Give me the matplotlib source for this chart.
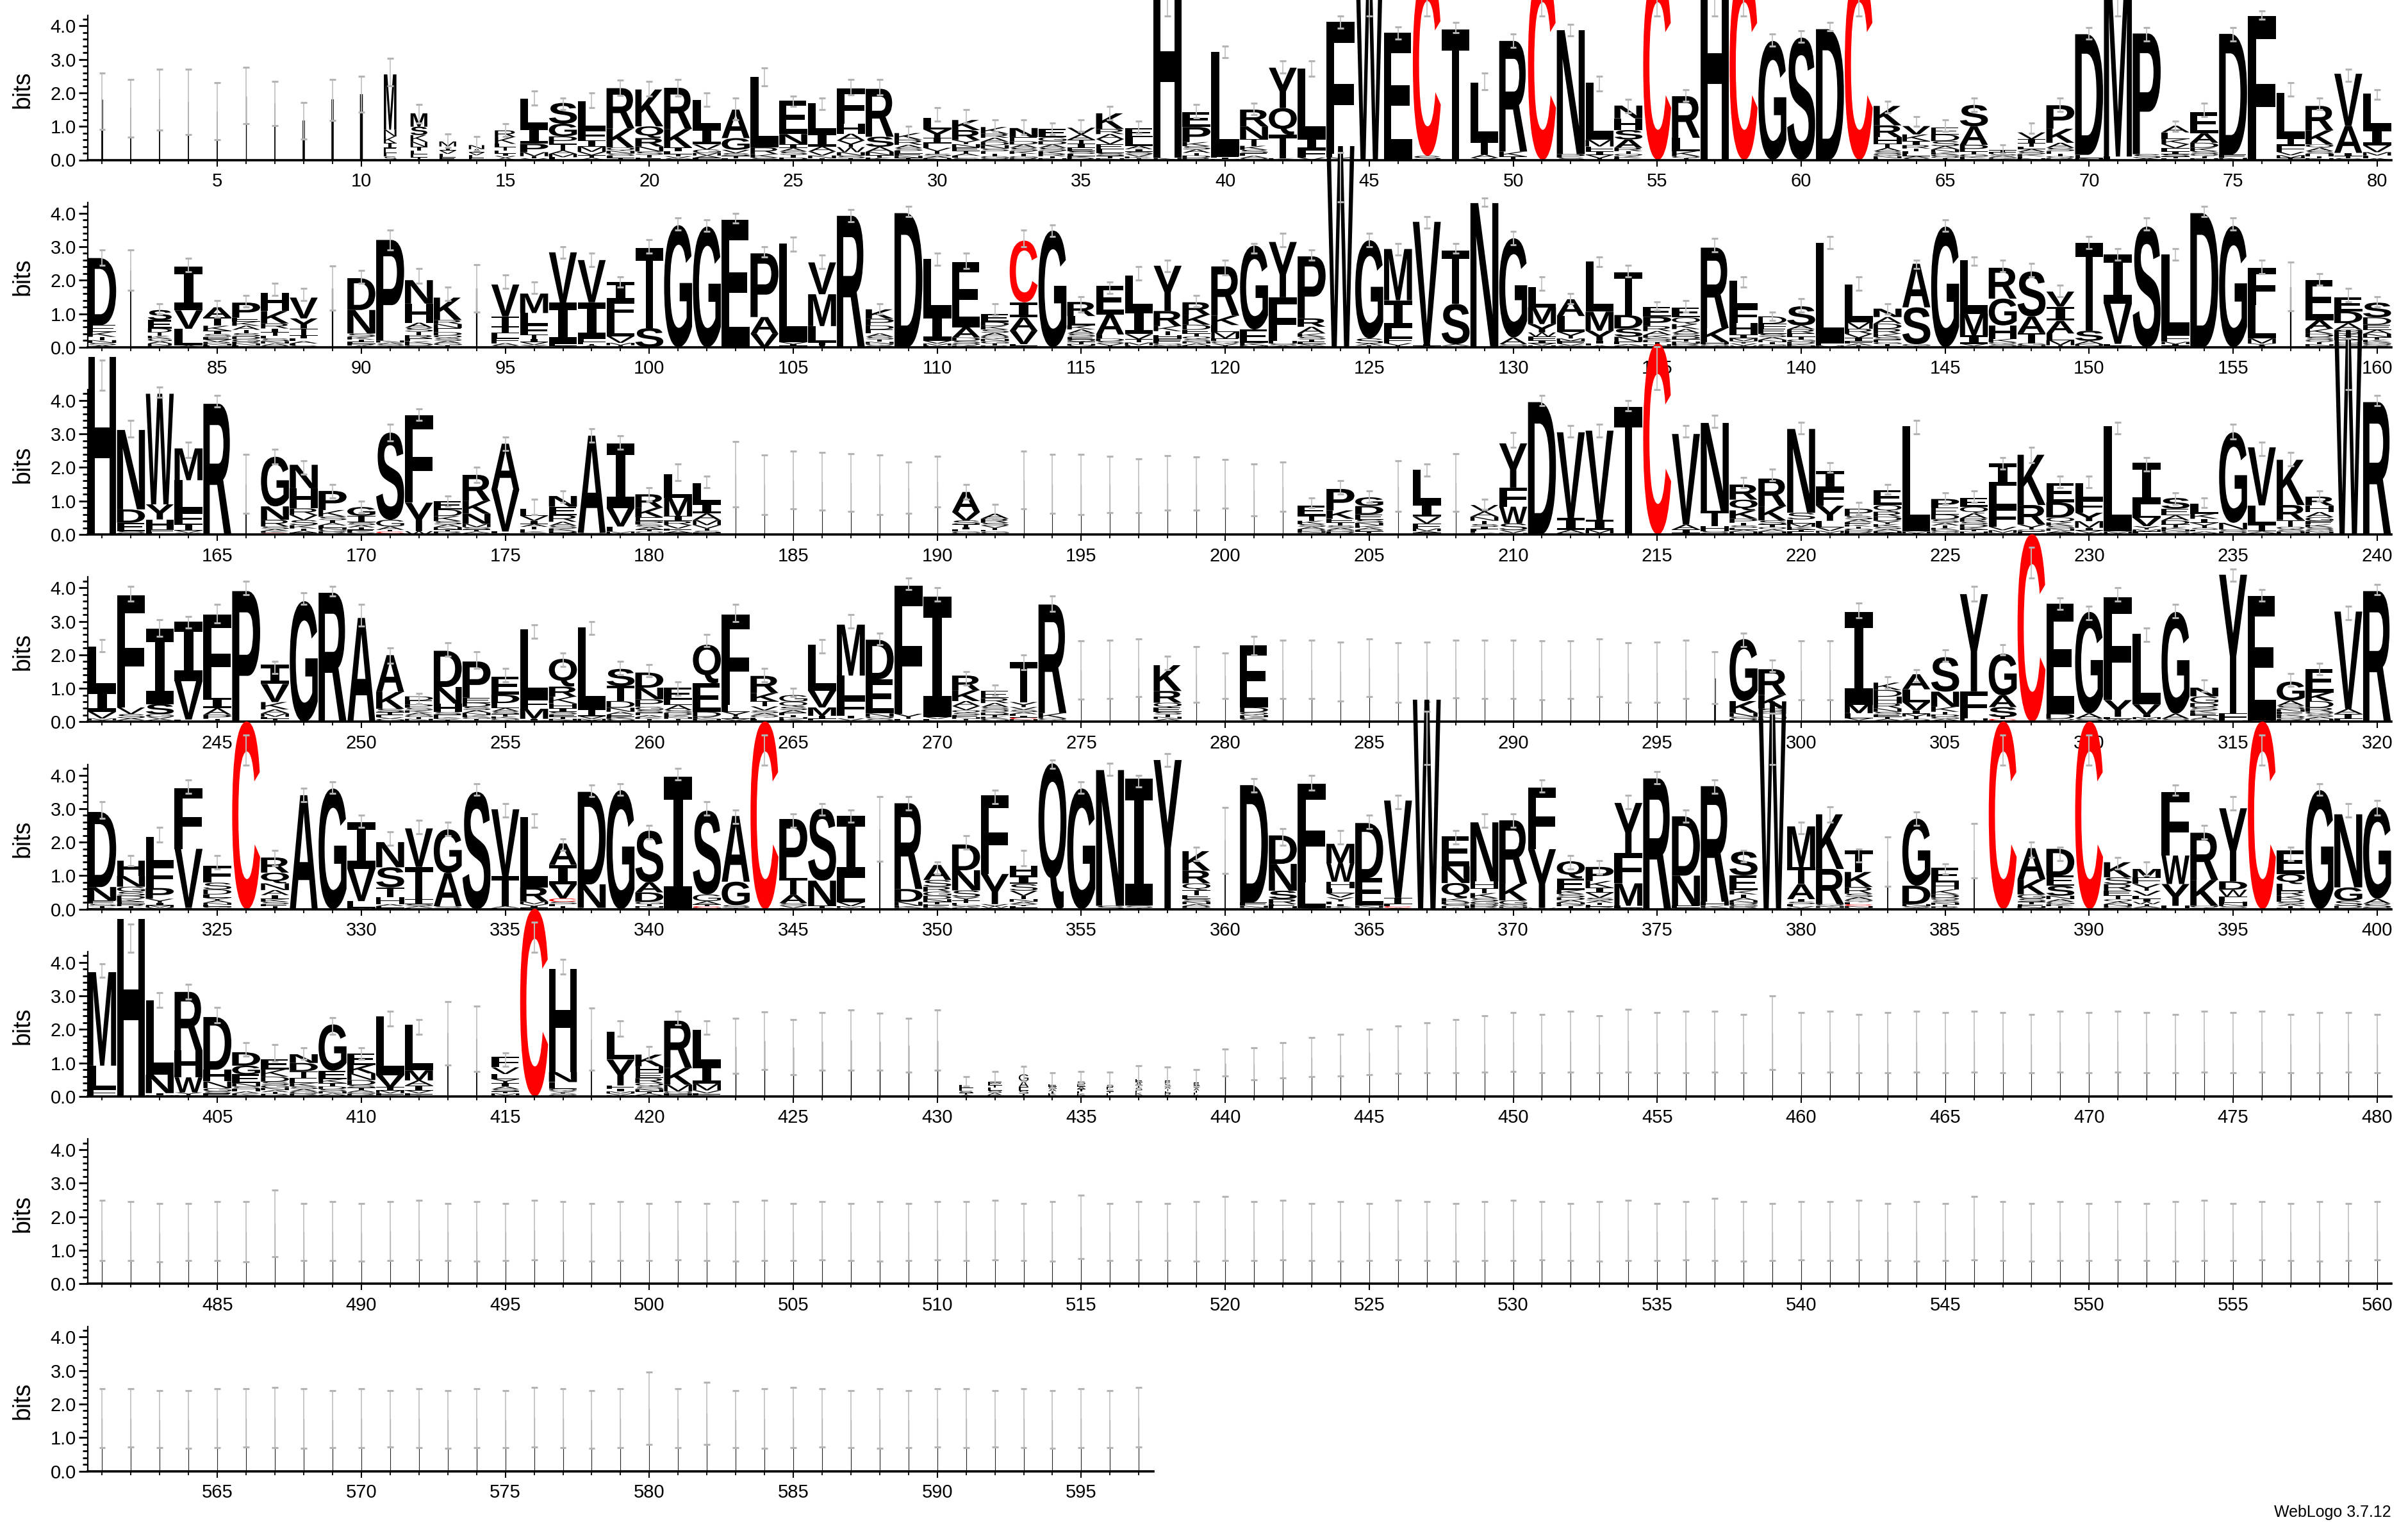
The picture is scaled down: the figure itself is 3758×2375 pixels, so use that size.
import re
import matplotlib
matplotlib.use("Agg")
import matplotlib.pyplot as plt
from matplotlib.textpath import TextPath
from matplotlib.patches import PathPatch
from matplotlib.font_manager import FontProperties
from matplotlib.transforms import Affine2D

# one string per position:  "letters with heights | error low,high | stack width"
row1 = [
    "I1.8|0.9,2.6|.06", "I1.55|0.67,2.4|.04", "I1.8|0.88,2.7|.04", "I1.73|0.76,2.7|.04",
    "I1.45|0.6,2.3|.04", "I1.9|1.08,2.77|.03", "I1.35 C.35|1.02,2.34|.04", "I1.17|0.62,1.72|.08",
    "I1.8|1.18,2.4|.08", "I1.96|1.42,2.5|.1",
    "M1.65 K.2 N.2 E.15 I.15 S.1 L.1|2.2,3.04|.45",
    "M.4 S.25 K.2 N.15 I.12 E.1 L.1 T.07|1.1,1.66|.6",
    "M.15 I.12 L.1 V.1 E.08|0.37,0.78|.6",
    "N.12 I.1 L.08 V.08 E.06|0.28,0.7|.55",
    "K.2 R.2 T.1 L.1 I.08 E.08 A.06 V.06|0.69,1.08|.75",
    "L.85 I.5 P.25 M.12 T.06 V.05|1.64,2.06",
    "S.62 G.38 T.2 P.22 M.1 A.1 L.08|1.5,1.85",
    "L.86 F.3 I.2 M.15 V.1 T.08 A.06|1.55,2.0",
    "R1.2 K.57 Q.1 N.08 S.07 T.06 L.06|1.93,2.38",
    "K1.1 Q.35 R.25 N.15 S.1 T.08 E.07|1.9,2.35",
    "R1.23 K.55 I.12 L.08 V.06 T.06 S.05|1.9,2.4",
    "L.82 I.5 V.15 G.1 M.08 A.07 F.06|1.6,2.0",
    "A.85 G.35 V.1 S.08 T.07 L.05|1.2,1.85",
    "L2.1 R.2 K.1 S.07|2.2,2.75",
    "E1.0 N.3 I.12 S.1 A.1 T.08 D.07|1.6,1.9",
    "L.9 I.4 A.15 V.12 N.08 T.05|1.5,1.85",
    "F1.05 H.3 Y.2 A.2 W.15 N.1 S.08 T.05|1.95,2.4",
    "R1.43 S.3 A.15 N.1 K.07 T.07|1.95,2.4",
    "K.2 R.15 A.1 L.08 S.08 E.07 T.06 N.06|0.6,1.0",
    "L.34 Y.25 F.15 I.15 V.1 T.08 S.07 A.06 N.05|1.15,1.55",
    "R.3 K.3 Y.12 E.1 N.1 T.08 A.07 S.06 L.06|1.1,1.5",
    "K.2 A.12 R.12 N.1 D.1 E.08 S.08 T.07 G.06 Q.05|0.85,1.2",
    "N.27 E.12 S.1 A.1 D.1 K.08 T.07 G.06 R.05|0.75,1.2",
    "E.25 G.12 S.1 A.1 D.1 K.08 R.07 T.06 N.05|0.75,1.1",
    "V.2 A.16 I.12 T.12 E.1 S.08 L.07 K.06 R.05|0.85,1.2",
    "K.47 E.15 V.15 L.12 A.15 R.15 S.08 T.07 N.05|1.2,1.6",
    "L.25 E.28 A.1 I.08 V.07 S.07 T.05 K.05|0.8,1.15",
    "H5.3 N.06|4.3,5.15",
    "P.45 E.45 K.12 A.1 S.1 T.08 D.07 R.06|1.25,1.65",
    "L3.1 F.05 I.04 M.03|3.05,3.4",
    "R.5 N.38 T.2 K.12 S.1 E.08 A.07 Q.05|1.35,1.7",
    "Y1.2 Q.8 T.7 K.05|2.6,2.95",
    "L2.05 I.35 F.25 V.07|2.5,2.95",
    "F3.95 L.1 Y.08|3.93,4.3",
    "W6.0|4.3,5.8",
    "E3.8|3.6,3.97",
    "C5.5 S.12|4.3,5.2",
    "T3.9|3.8,4.1",
    "L1.75 T.3 A.1 I.1 V.06|2.1,2.6",
    "R3.3 K.15 T.1|3.35,3.75",
    "C5.6|4.3,5.2",
    "N3.7 P.1 S.07|3.7,4.05",
    "L1.7 M.2 F.15 V.1 I.1 T.05|2.05,2.5",
    "N.38 H.35 S.28 A.25 R.1 T.08 Q.07 K.06 E.05|1.4,1.8",
    "C5.6|4.3,5.2",
    "R1.24 L.4 K.15 Q.06 T.05|1.75,2.1",
    "H5.3|4.3,5.15",
    "C5.6|4.3,5.2",
    "G3.55|3.4,3.75",
    "S3.65|3.5,3.85",
    "D3.9|3.85,4.1",
    "C5.6|4.3,5.2",
    "K.58 R.35 H.2 T.12 A.1 S.08 Q.07 N.06 E.05|1.4,1.75",
    "V.25 K.2 I.12 R.1 L.08 T.08 E.07 A.06 S.05|1.0,1.3",
    "D.2 E.2 S.15 A.1 N.08 K.07 G.06 T.05 Q.05|0.85,1.2",
    "S.64 A.55 P.2 T.08 G.07 E.05 K.05|1.45,1.85",
    "T.06 A.05 S.05 E.05 K.04 G.04|0.2,0.45",
    "V.2 I.12 T.1 A.08 L.08 S.07 E.06 K.06 N.05|0.8,1.1",
    "P.7 K.42 A.15 S.1 E.08 T.07 Q.06 R.05|1.45,1.85",
    "D3.6 E.1 N.05|3.6,3.95",
    "M5.2 L.1|4.3,5.1",
    "P3.6 S.12 A.05|3.55,3.95",
    "L.2 A.2 K.15 V.12 F.1 I.08 S.07 E.05 T.05|0.85,1.15",
    "E.63 A.28 D.15 K.1 S.08 Q.07 T.06 N.05|1.3,1.7",
    "D3.6 E.1 N.06|3.55,3.95",
    "F4.3|4.2,4.45",
    "L1.36 F.2 I.2 V.1 M.08 T.06|1.9,2.3",
    "R.73 K.42 A.1 Q.1 S.08 H.07 T.06 N.05|1.5,1.85",
    "V1.56 A.8 I.1 T.06 S.05|2.35,2.7",
    "L1.05 I.5 V.2 M.1 F.08 A.05|1.8,2.1",
]

row2 = [
    "D2.0 E.2 K.15 T.1 N.08 S.07 A.06|2.45,2.9",
    "I2.3|1.7,2.9|.04",
    "S.3 E.25 D.12 T.1 G.08 K.08 A.07 N.06 R.05|1.0,1.3|.85",
    "I1.3 V.55 L.5 A.05|2.25,2.65",
    "T.25 A.3 K.15 I.1 E.08 S.08 V.07 R.06 L.05 N.05|0.9,1.4",
    "P.45 A.12 K.12 E.12 S.1 T.1 D.08 G.07 N.06 R.06 L.05|1.2,1.55",
    "H.55 K.37 R.15 I.12 T.1 S.08 E.08 N.07 A.06 Q.05|1.55,1.9",
    "V.62 Y.3 T.2 I.1 L.08 A.07 F.06 S.05|1.4,1.75",
    "I1.75|1.1,2.43|.05",
    "D.95 N.7 S.1 K.08 T.07 E.06 A.05 R.05|1.9,2.3",
    "P3.0 N.06 S.05 A.05 T.04|2.9,3.5",
    "H.57 N.7 S.12 A.15 R.1 T.1 E.08 K.07 D.06 G.05|1.9,2.35",
    "K.67 E.12 N.12 R.12 D.1 S.08 Q.08 A.07 T.06 G.06|1.4,1.8",
    "I1.75|1.05,2.46|.05",
    "V.95 T.3 I.2 F.15 L.15 A.07 S.05|1.75,2.15",
    "M.58 L.35 F.3 T.12 I.1 V.08 Y.07|1.6,1.95",
    "V1.5 I1.24 L.05 A.04|2.65,3.0",
    "V1.26 I1.1 L.08 F.06 A.05 T.05|2.4,2.8",
    "I.56 F.55 L.5 V.2 M.07 T.06|1.8,2.1",
    "T2.39 S.57|2.8,3.2",
    "G3.64|3.5,3.85",
    "G3.6|3.45,3.8",
    "E3.8|3.7,4.0",
    "P1.9 A.5 V.4|2.7,3.0",
    "L2.95 V.06 I.05 M.04|2.87,3.29",
    "M.95 V.95 L.5 I.08 T.05|2.35,2.75",
    "R3.92|3.75,4.1",
    "K.28 P.2 E.12 D.12 A.1 S.08 T.07 N.06 G.05 Q.05|1.0,1.3",
    "D4.0|3.9,4.2",
    "L1.65 I.8 V.08 M.06 F.05|2.45,2.8",
    "E1.95 A.3 D.1 S.08 Q.06 K.05|2.35,2.8",
    "E.25 D.12 A.1 S.1 K.1 Q.08 G.07 N.07 T.06 R.05|0.95,1.3",
    "C1.84 V.4 A.4 I.45 L.05 T.04|3.0,3.5",
    "G3.48|3.3,3.65",
    "R.42 L.28 A.12 K.12 S.1 E.08 Q.07 T.06 V.05 N.05|1.05,1.5",
    "E.85 A.6 L.12 D.08 S.07 V.06 T.05|1.6,1.95",
    "L.99 I.75 V.15 T.1 M.08 F.06|2.0,2.4",
    "Y1.35 R.45 K.15 T.12 H.1 F.08 E.07 Q.06 N.05|2.25,2.6",
    "R.37 K.3 D.15 E.12 Q.08 T.08 S.07 A.06 N.06 H.05|1.2,1.55",
    "R1.47 K.28 M.2 L.2 E.08 Q.07 V.06 T.05|2.15,2.6",
    "G2.5 E.4 K.08 M.05|2.8,3.1",
    "F1.3 Y1.65 H.08 S.06 A.05|3.0,3.4",
    "P1.85 R.25 A.2 K.1 S.08 T.07 E.06 G.05 V.05|2.6,2.9",
    "W6.0|4.34,5.8",
    "G2.93 S.15 A.06 T.05|3.0,3.4",
    "M1.53 I.83 L.3 F.15 V.07 T.05|2.75,3.1",
    "V3.65 I.05 A.04|3.55,3.9",
    "T1.6 S1.2 A.05 V.04|2.8,3.1",
    "N4.3|4.2,4.45",
    "G2.96 A.2 S.05 N.04|3.05,3.45",
    "L.6 M.5 Y.25 F.12 W.12 I.08 V.07 H.05|1.7,2.1",
    "L.47 A.5 Y.2 M.08 F.07 V.06 S.05|1.3,1.6",
    "L1.5 M.57 Y.3 I.08 F.06 A.05|2.4,2.7",
    "T1.28 D.4 S.25 N.15 E.07 A.05 K.04|2.1,2.45",
    "E.3 P.28 R.15 A.12 K.08 S.07 T.06 D.06 N.05 Q.04|1.1,1.35",
    "E.3 Q.2 K.15 A.12 S.1 D.08 T.07 R.06 N.06 G.05|1.05,1.4",
    "R2.4 K.42 H.06 Q.05 N.04|2.85,3.25",
    "L.8 F.45 H.35 I.12 M.08 Y.07 V.06 W.05|1.8,2.1",
    "D.22 E.15 F.15 S.1 A.08 N.07 T.06 G.05 K.04|0.8,1.05",
    "S.57 R.12 A.12 E.1 T.08 G.07 D.06 N.05 K.05|1.05,1.45",
    "L3.0 F.06 M.05|2.95,3.3",
    "L1.12 M.2 R.15 V.12 I.1 F.07 A.06 T.05|1.7,2.1",
    "N.25 A.2 R.15 D.15 K.1 S.08 E.07 G.06 T.05 Q.04|1.0,1.3",
    "A1.3 S1.1 G.05 T.04|2.35,2.6",
    "G3.6|3.45,3.8",
    "L1.6 M.65 I.25 V.06 F.04|2.45,2.7",
    "R.92 H.4 G.8 K.1 Q.06 S.05 N.04|2.25,2.6",
    "S1.34 A.5 T.3 G.07 N.05|2.1,2.5",
    "I.42 V.45 A.38 L.2 M.15 T.06|1.5,1.85",
    "T2.63 S.3 A.1 N.05 V.04|2.95,3.3",
    "I1.47 V1.2 L.06 A.04|2.6,2.95",
    "S3.6|3.5,3.85",
    "L2.4 F.2 M.07 I.05 V.04|2.6,2.95",
    "D4.0|3.9,4.2",
    "G3.62|3.5,3.85",
    "L1.0 F1.1 M.15 Y.06 I.05|2.2,2.6",
    "I1.8|1.08,2.53|.05",
    "E1.2 A.25 K.15 D.1 S.08 Q.07 T.06 N.05 R.04|1.85,2.2",
    "E.41 D.35 A.2 S.12 K.1 N.08 T.07 Q.06 G.05 R.04|1.35,1.75",
    "S.44 D.22 E.15 A.12 N.1 T.08 K.07 G.06 Q.05 R.04|1.2,1.5",
]

row3 = [
    "H5.3|4.3,5.2",
    "N2.37 D.4 E.25 S.06 K.04|2.9,3.4",
    "W3.3 Y.45 H.3 F.08 L.07|4.1,4.4",
    "L.95 M.95 I.2 F.35 V.07 Y.05|2.3,2.75",
    "R3.9|3.8,4.15",
    "I1.5|0.63,2.4|.04",
    "G1.48 N.4 R.2 S.08 C.05 A.06 K.05|2.1,2.55",
    "N.7 H.6 R.2 S.15 V.15 K.1 T.07 A.06 E.05|1.8,2.2",
    "P.57 K.2 S.1 A.08 T.08 E.07 N.06 R.05 G.05 V.04|1.1,1.5",
    "G.26 I.2 S.08 A.07 T.06 V.05 K.05 E.05|0.65,1.0",
    "S2.6 G.2 A.1 C.05 T.05 N.04|2.8,3.3",
    "F2.6 Y.85 W.1|3.4,3.75",
    "E.25 D.2 K.15 S.1 A.08 N.07 T.06 R.05 Q.04|0.85,1.15",
    "R.78 K.38 N.3 M.1 S.07 T.06 A.05 E.04|1.55,2.0",
    "A1.37 V1.25 L.05 I.04|2.5,2.9",
    "L.2 V.15 I.1 A.08 T.07 E.06 S.05 K.05|0.6,1.05",
    "N.32 E.25 R.2 A.12 S.08 K.07 D.06 T.05|0.95,1.3",
    "A2.9 S.05|2.75,3.15",
    "I1.92 V.55 L.15 M.05 F.04|2.55,2.95",
    "R.4 K.28 E.12 P.1 S.08 A.07 T.06 Q.05 N.04|1.0,1.4",
    "L.7 M.55 I.15 R.12 V.1 F.07 A.06 T.05|1.6,2.1",
    "L.6 I.3 A.2 M.15 V.1 T.07 S.06 F.05|1.4,1.75",
    "|0.82,2.78", "|0.6,2.37", "|0.76,2.49", "|0.72,2.45", "|0.69,2.42",
    "|0.6,2.37", "|0.63,2.17", "|0.82,2.33",
    "A.6 V.25 S.12 T.08 I.07 L.06 G.05 E.04|1.05,1.5",
    "A.15 R.12 S.08 V.07 T.06 G.05 E.05 K.04|0.45,0.9",
    "|0.76,2.49", "|0.63,2.39", "|0.6,2.39", "|0.66,2.33", "|0.66,2.26",
    "|0.72,2.36", "|0.72,2.31", "|0.79,2.24", "|0.56,2.1", "|0.69,2.17",
    "E.3 T.15 K.1 S.08 A.07 D.06 G.05 N.05|0.8,1.1",
    "P.64 K.25 E.12 T.08 S.07 A.06 D.05 G.05 R.04|1.2,1.6",
    "G.26 D.25 E.15 S.1 N.08 K.07 A.06 T.05 P.05 R.04|0.95,1.3",
    "|0.69,2.2",
    "L1.0 I.4 V.2 F.15 M.08 T.05 A.05|1.75,2.1",
    "|0.69,2.42",
    "V.2 A.15 N.12 T.1 S.08 I.07 L.06 K.05 E.05|0.75,1.05",
    "F.57 Y1.32 W.5 S.2 V.08 N.05|2.6,3.05",
    "D3.95|3.85,4.15",
    "V2.56 I.35 A.1 L.04|2.9,3.25",
    "V2.66 I.3 M.1 A.04|2.9,3.3",
    "T3.8|3.7,4.0",
    "C5.7|4.32,5.6",
    "V2.7 A.15 I.1 T.05|2.9,3.25",
    "N2.63 T.45 H.15 S.06 D.04|3.2,3.55",
    "R.45 Q.32 K.25 P.12 T.08 S.07 E.06 N.05 A.05 H.04|1.4,1.7",
    "R.83 K.42 S.12 T.08 Q.07 A.06 N.05 E.04|1.6,1.95",
    "N2.5 S.2 L.12 M.1 K.08 T.06 E.05 D.04|3.0,3.35",
    "F.47 I.57 Y.45 L.2 V.1 M.06 W.05|1.85,2.15",
    "P.22 S.1 A.08 E.07 T.06 K.06 D.05 G.05 N.04 R.04|0.6,0.95",
    "E.45 Q.2 R.15 D.12 Y.1 K.08 S.07 A.06 T.05 N.05|1.2,1.5",
    "L3.15 M.05 I.04|3.0,3.4",
    "P.26 E.2 D.15 S.1 A.08 T.07 K.06 Q.05 G.05 N.04|0.9,1.25",
    "E.26 Q.2 A.15 R.1 D.08 S.08 K.07 T.06 N.05 G.04|0.95,1.3",
    "I.67 L.64 F.58 V.1 M.08 Y.05|1.95,2.3",
    "K1.5 R.58 Y.15 Q.06 E.05 N.04|2.15,2.6",
    "E.58 D.45 Q.15 K.1 S.08 N.07 A.06 T.05|1.4,1.75",
    "L.48 F.4 Y.25 M.2 I.08 V.07 W.05|1.4,1.75",
    "L3.15 M.05 F.04|3.0,3.35",
    "I1.25 L.4 V.25 Y.1 M.06 F.05 T.04|1.9,2.3",
    "S.32 E.2 A.15 D.12 T.08 K.07 N.06 G.05 Q.04|0.9,1.25",
    "L.3 K.15 I.12 V.08 T.07 S.06 A.05 E.05 R.04|0.8,1.1",
    "G2.7 N.2 S.06 D.05 A.04|2.85,3.3",
    "V1.73 L.58 I.2 A.05 M.04|2.35,2.75",
    "K1.35 R.45 T.2 Q.08 S.06 N.05 E.04|2.05,2.45",
    "R.26 H.2 A.15 G.12 E.1 K.08 S.07 Q.06 N.05 T.04|1.0,1.3",
    "W6.1|4.32,5.85",
    "R3.95|3.85,4.15",
]

row4 = [
    "L1.3 I.65 V.2 A.05 M.05|2.1,2.45",
    "F3.35 V.2 S.12 A.06 L.05|3.6,4.05",
    "I2.25 S.3 G.08 V.06 A.05 L.04|2.55,3.05",
    "I1.78 V1.15 L.04 A.03|2.8,3.15",
    "F2.5 I.3 A.2 P.12 T.05 S.04|2.95,3.5",
    "P3.9|3.8,4.2",
    "V.54 I.57 K.22 A.12 M.1 L.06 T.05 S.04|1.45,1.8",
    "G3.6|3.5,3.85",
    "R3.85|3.75,4.05",
    "A3.1|2.85,3.5",
    "A1.1 K.5 S.1 T.08 E.07 G.05 V.05 N.04|1.75,2.2",
    "E.12 D.12 P.1 S.08 A.07 K.07 G.06 N.05 T.05 R.04|0.55,0.85",
    "D1.08 N.5 H.25 S.08 E.07 Y.05 K.05 T.04|1.95,2.35",
    "P1.08 E.15 D.12 S.1 A.08 N.07 K.06 T.05 G.05 Q.04|1.6,2.1",
    "E.54 D.25 L.15 A.1 S.08 T.07 K.06 N.05 Q.05|1.2,1.6",
    "L2.07 M.3 F.3 I.05 V.04|2.5,2.9",
    "Q.83 R.3 K.2 H.15 I.1 S.08 E.07 T.06 N.05 A.04|1.65,2.05",
    "L2.45 I.2 V.08 M.05 F.04|2.6,3.0",
    "S.51 T.45 D.2 N.12 A.08 E.07 K.06 G.05 Q.04|1.4,1.8",
    "D.45 N.35 P.22 G.1 S.08 E.07 A.06 T.05 K.05 Q.04|1.35,1.7",
    "E.37 A.15 L.15 S.08 D.07 K.06 T.05 N.05 G.04|0.8,1.2",
    "Q1.15 E.85 D.15 K.06 N.05 S.04|2.25,2.6",
    "F2.7 L.2 Y.15 I.06 V.05 M.04|3.0,3.5",
    "R.51 K.25 T.15 V.12 S.08 A.07 Q.06 E.05 N.04 L.04|1.2,1.6",
    "G.2 Q.15 S.1 A.08 E.07 T.06 K.05 N.05 D.04|0.75,1.0",
    "L1.37 V.5 M.25 I.08 F.06 A.04|2.05,2.45",
    "M1.52 L.7 F.5 I.08 V.06 Y.04|2.8,3.2",
    "D1.18 E1.02 N.1 Q.06 S.05 K.04|2.3,2.65",
    "F3.83 Y.15 L.05 W.04|3.95,4.3",
    "I3.58 V.06 L.05 M.04|3.6,4.0",
    "R.44 K.32 A.15 V.12 Q.08 S.07 E.06 T.05 N.05 H.04|1.1,1.5",
    "E.22 R.15 A.12 Q.08 S.08 D.07 K.06 T.06 G.05 N.04|0.8,1.1",
    "T1.2 Y.15 C.05 V.08 S.07 A.06 I.05 L.05 F.04 N.04|1.55,2.0",
    "R3.24 K.15 Q.06 N.05|3.3,3.75",
    "|0.67,2.41", "|0.69,2.43", "|0.75,2.47",
    "K.77 R.35 Q.15 E.12 S.08 T.07 N.06 A.05 D.04|1.55,1.95",
    "|0.59,2.25", "|0.69,2.06",
    "E1.85 D.15 Q.08 N.06 S.05 K.05 A.04|2.0,2.55",
    "|0.69,2.43", "|0.69,2.43", "|0.62,2.38", "|0.75,2.47", "|0.58,2.36",
    "|0.6,2.38", "|0.72,2.44", "|0.69,2.43", "|0.69,2.43", "|0.66,2.41",
    "|0.69,2.41", "|0.75,2.47", "|0.58,2.36", "|0.59,2.38", "|0.69,2.44",
    "I1.3|0.55,2.09|.06",
    "G1.85 K.35 N.12 S.06 D.05 R.04|2.25,2.65",
    "R.77 K.4 S.1 Q.08 T.07 N.06 E.05 A.04|1.5,1.85",
    "|0.66,2.41", "|0.66,2.41",
    "I2.77 M.25 L.15 V.06 F.05|3.1,3.55",
    "K.22 H.2 D.2 R.15 N.1 S.08 E.07 T.06 A.05 Q.04|1.0,1.35",
    "A.45 V.25 L.38 I.1 M.08 T.07 S.05 F.04|1.2,1.55",
    "S1.03 N.45 K.15 T.08 D.07 G.06 A.05 E.04|1.8,2.15",
    "Y2.9 F.8 H.06 W.05|3.6,4.05",
    "G1.24 S.3 A.35 C.05 T.05 N.04|2.0,2.3",
    "C5.6|4.3,5.2",
    "E3.28 D.15 Q.05 K.04|3.35,3.7",
    "G3.03 A.15 S.06 N.04|3.05,3.45",
    "F3.06 Y.5 L.06 W.05 I.04|3.6,4.0",
    "L2.1 V.3 I.08 M.06 F.04 A.04|2.4,2.8",
    "G3.04 A.15 S.05 N.04|3.1,3.5",
    "N.26 G.2 D.12 S.1 K.08 E.07 T.06 A.05 R.04 Q.04|0.9,1.25",
    "Y4.14 F.2 H.05|4.2,4.55",
    "E3.7 D.05|3.6,3.95",
    "G.57 A.15 S.1 N.08 E.07 K.06 D.05 T.04 R.04 Q.04|1.05,1.45",
    "E.7 K.25 D.2 R.12 Q.08 S.07 A.06 N.05 T.04|1.4,1.75",
    "V2.9 I.15 A.15 L.05 T.04|3.05,3.45",
    "R3.9|3.8,4.1",
]

row5 = [
    "D2.24 N.4 E.1 S.07 T.05 G.04|2.7,3.2",
    "H.46 N.32 G.15 S.12 D.1 K.08 E.07 R.06 T.05 Q.04|1.3,1.6",
    "F.7 L.83 P.32 Y.12 I.08 M.06 V.05|2.0,2.45",
    "F1.8 V1.76 I.04|3.45,3.85",
    "F.51 S.2 D.15 L.1 Y.08 A.07 N.06 E.05 T.04 G.04|1.2,1.6",
    "C5.6|4.3,5.2",
    "R.45 Q.32 N.2 A.15 I.12 K.08 S.07 E.06 T.05 H.04|1.3,1.75",
    "A3.4|3.2,3.6",
    "G3.6|3.45,3.8",
    "I1.4 V.96 L.2 M.04|2.45,2.8",
    "N.75 S.6 T.3 H.2 A.06 E.05 K.04|1.9,2.3",
    "V1.15 T.96 I.15 S.06 A.05 L.04|2.25,2.65",
    "A.99 G1.3 S.05 T.04|2.2,2.6",
    "S3.5|3.4,3.75",
    "V2.0 T.83 I.06 A.05 L.04|2.75,3.15",
    "L2.1 R.42 M.08 V.06 I.05 F.04|2.45,2.85",
    "A.64 I.58 V.42 C.1 S.07 L.06 T.05 G.04|1.75,2.1",
    "D2.76 N.7 E.04|3.35,3.7",
    "G3.55|3.4,3.75",
    "S1.54 A.3 D.28 G.07 T.06 N.05 E.04|2.1,2.5",
    "I3.95|3.85,4.2",
    "S2.5 G.2 A.1 C.05 T.05 N.04|2.8,3.2",
    "A1.96 G.7 S.08 T.04|2.55,2.95",
    "C5.6|4.3,5.2",
    "P1.76 T.5 A.25 S.08 V.06 E.04|2.45,2.85",
    "S2.15 N.75 T.06 G.04|2.8,3.15",
    "I1.86 L.72 V.12 M.05 F.04|2.6,2.95",
    "I2.38|1.42,3.35|.04",
    "R2.56 D.38 N.12 K.06 Q.04|2.95,3.35",
    "A.45 S.2 R.15 G.12 D.1 N.08 T.07 E.06 K.05 Q.04|1.05,1.4",
    "D.77 N.6 S.2 Y.1 T.07 E.06 G.05 K.04 A.04|1.8,2.2",
    "F2.35 Y.9 V.06 W.05 H.04|3.15,3.55",
    "H.3 I.25 S.2 V.15 T.1 N.08 A.07 Y.06 L.05 E.04|1.3,1.75",
    "Q4.35|4.2,4.45",
    "G3.6|3.45,3.8",
    "N4.05 S.1|4.0,4.35",
    "I3.8 S.06 T.04|3.65,4.0",
    "Y4.45|4.25,4.65",
    "K.58 R.38 Q.2 T.15 E.12 S.08 N.07 A.06 D.05 H.04|1.45,1.85",
    "I2.05|1.07,3.03|.04",
    "D3.5 E.1 N.06 S.04|3.5,3.9",
    "D.85 N.8 S.25 R.15 E.06 H.05 K.04|1.9,2.4",
    "F2.95 L.75 Y.04|3.55,4.0",
    "W.55 M.58 H.2 L.15 Y.12 V.12 F.08 I.06 K.05 A.04|1.95,2.35",
    "D1.64 E.83 N.06 S.04|2.4,2.8",
    "V2.9 I.2 C.05 L.05 A.04|3.0,3.4",
    "W6.25|4.32,5.9",
    "E.9 Q.45 N.5 K.1 D.08 S.06 H.05 A.04|1.95,2.35",
    "N1.76 H.2 K.15 T.15 S.1 G.08 D.06 R.05 E.04|2.45,2.85",
    "R1.89 K.5 G.12 Q.06 S.04 N.04|2.45,2.85",
    "F1.83 Y1.75 W.04|3.5,3.85",
    "Q.51 E.35 K.12 S.1 D.08 A.07 N.06 T.05 R.05 H.04|1.2,1.6",
    "P.42 K.2 V.15 I.15 S.08 A.07 T.06 E.05 L.04 R.04|1.05,1.45",
    "F.9 Y1.5 M.67 L.06 W.04|3.0,3.4",
    "R3.9|3.75,4.1",
    "D1.77 N.9 E.06 S.04|2.6,2.95",
    "R3.45 H.12 K.06 Q.04|3.45,3.85",
    "S.71 E.45 K.12 T.1 A.08 N.07 D.06 G.05 Q.04 R.04|1.4,1.75",
    "W6.2|4.32,5.85",
    "M1.22 A.45 T.5 I.08 S.07 L.06 V.05 K.04|2.25,2.6",
    "K1.63 R1.05 Q.06 N.05 T.04|2.6,3.05",
    "T.64 K.45 R.2 C.06 S.1 A.08 Q.07 E.06 N.05 V.04|1.4,1.8",
    "I1.42|0.69,2.16|.04",
    "G2.0 D.55 N.06 S.05 A.04|2.5,2.9",
    "E.45 H.2 K.15 D.1 Q.08 S.07 N.06 T.05 A.04 R.04|1.05,1.35",
    "I1.75|0.94,2.55|.04",
    "C5.6|4.3,5.2",
    "A.93 K.45 G.12 S.1 T.07 E.06 N.05 R.04|1.55,2.0",
    "D.8 S.3 E.3 N.1 A.08 G.07 K.06 T.05 Q.04|1.45,1.85",
    "C5.6|4.3,5.2",
    "K.45 R.2 S.2 E.15 T.1 Q.08 A.07 N.06 D.05 H.04|1.2,1.55",
    "M.25 Y.2 F.2 V.15 L.1 I.08 W.07 T.06 A.05 S.04|1.0,1.4",
    "F1.9 W.85 Y.65 H.06 L.04|3.4,3.7",
    "R1.41 K.77 Q.06 H.04|2.1,2.5",
    "Y2.18 D.25 W.2 F.15 H.08 N.06 S.05 E.04|2.95,3.35",
    "C5.6|4.3,5.2",
    "E.71 Q.3 L.2 R.15 K.1 D.08 S.07 A.06 T.05 N.04|1.45,1.85",
    "G3.55|3.4,3.75",
    "N2.18 G.4 S.15 D.06 K.04|2.75,3.15",
    "G2.73 A.15 S.12 N.04|2.8,3.25",
]

row6 = [
    "M2.79 L.7 F.22|3.55,3.95",
    "H5.3|4.3,5.15",
    "L2.21 N.55 I.06 M.04|2.65,3.1",
    "R1.75 H.8 W.45 Y.08 K.04|2.9,3.35",
    "D1.57 H.35 N.2 G.1 S.06 E.05 K.04|2.2,2.65",
    "E.26 D.4 G.26 N.1 S.08 H.07 A.06 K.05 T.04|1.2,1.6",
    "K.22 E.3 D.15 S.1 G.08 N.07 A.06 T.05 Q.04 R.04|1.05,1.55",
    "N.26 D.25 T.2 E.15 K.1 S.08 A.07 G.06 R.05 Q.04|1.1,1.45",
    "G1.38 E.25 K.12 T.1 D.08 S.07 N.06 A.05 R.04|1.85,2.35",
    "E.35 K.25 N.2 D.15 S.08 T.07 A.06 G.05 Q.04 R.04|1.1,1.45",
    "L1.76 V.35 I.1 M.08 F.06 A.04|2.1,2.55",
    "L1.37 M.3 I.15 A.15 V.08 F.06 T.04|1.85,2.3",
    "I1.9|0.94,2.83|.04",
    "I1.72|0.75,2.7|.04",
    "F.32 V.2 L.15 Y.12 I.1 A.08 S.07 T.06 M.05 K.04|0.9,1.3",
    "C5.6|4.3,5.2",
    "H3.08 N.3 L.2 Q.08 Y.06 S.05 K.04|3.65,4.1",
    "I1.7|0.78,2.64|.04",
    "L.83 Y.77 F.1 I.08 M.06 V.05 H.04|1.8,2.25",
    "K.35 H.2 R.15 E.15 Q.1 S.08 N.07 T.06 A.05 D.04|1.1,1.5",
    "R1.41 K.5 M.2 Q.06 H.05 S.04|2.15,2.55",
    "L1.06 I.55 M.2 V.08 F.06 A.04|1.85,2.25",
    "I1.5|0.69,2.33|.03", "I1.66|0.8,2.53|.03", "I1.47|0.65,2.3|.03",
    "I1.65|0.79,2.51|.03", "I1.68|0.78,2.59|.03", "I1.64|0.78,2.49|.03",
    "I1.53|0.73,2.33|.03", "I1.66|0.78,2.58|.03",
    "L.1 E.08 T.06 S.06 A.05|0.3,0.6|.5",
    "E.1 L.08 T.08 S.07 A.06 K.05|0.4,0.75|.5",
    "G.2 A.18 S.1 E.1 T.08|0.45,0.9|.35",
    "E.08 S.07 T.06 A.06 L.05 K.05|0.25,0.7|.3",
    "E.08 S.08 T.07 A.07 L.06 K.05 D.04|0.35,0.75|.3",
    "E.07 S.07 T.06 A.06 L.05 K.04|0.2,0.73|.25",
    "E.1 S.08 T.08 A.08 L.07 K.06 D.05|0.35,0.92|.25",
    "E.09 S.08 T.07 A.07 L.06 K.05 D.05|0.3,0.88|.2",
    "E.09 S.08 T.07 A.07 L.06 K.05|0.3,0.8|.2",
    "I1.0|0.62,1.42|.03",
    "|0.5,1.45", "|0.55,1.6", "|0.6,1.75", "|0.62,1.85", "|0.65,2.0",
    "|0.68,2.1", "|0.7,2.2", "|0.7,2.3", "|0.72,2.4", "|0.75,2.5",
    "|0.7,2.45", "|0.72,2.55", "|0.7,2.4", "|0.72,2.6", "|0.7,2.5",
    "|0.7,2.55", "|0.72,2.55", "|0.7,2.45", "|0.8,3.0", "|0.7,2.5",
    "|0.72,2.55", "|0.7,2.45", "|0.7,2.5", "|0.72,2.55", "|0.7,2.5",
    "|0.72,2.55", "|0.7,2.5", "|0.7,2.45", "|0.72,2.55", "|0.7,2.5",
    "|0.72,2.55", "|0.7,2.5", "|0.7,2.45", "|0.72,2.55", "|0.7,2.5",
    "|0.72,2.55", "|0.7,2.45", "|0.7,2.5", "|0.72,2.5", "|0.7,2.45",
]

row7 = [
    "|0.7,2.5", "|0.7,2.45", "|0.65,2.4", "|0.7,2.4", "|0.7,2.45",
    "|0.65,2.45", "|0.8,2.8", "|0.7,2.4", "|0.7,2.45", "|0.68,2.4",
    "|0.7,2.45", "|0.72,2.5", "|0.7,2.4", "|0.68,2.45", "|0.7,2.4",
    "|0.72,2.5", "|0.7,2.45", "|0.68,2.4", "|0.7,2.45", "|0.7,2.4",
    "|0.72,2.45", "|0.7,2.4", "|0.68,2.45", "|0.7,2.5", "|0.7,2.4",
    "|0.72,2.45", "|0.7,2.4", "|0.68,2.45", "|0.7,2.4", "|0.72,2.45",
    "|0.7,2.45", "|0.72,2.5", "|0.7,2.4", "|0.68,2.45", "|0.75,2.65",
    "|0.7,2.4", "|0.72,2.45", "|0.7,2.4", "|0.68,2.45", "|0.7,2.6",
    "|0.7,2.45", "|0.72,2.5", "|0.7,2.4", "|0.68,2.45", "|0.7,2.4",
    "|0.72,2.5", "|0.7,2.45", "|0.68,2.4", "|0.7,2.45", "|0.7,2.5",
    "|0.72,2.45", "|0.7,2.4", "|0.68,2.45", "|0.7,2.5", "|0.7,2.4",
    "|0.72,2.45", "|0.7,2.55", "|0.68,2.45", "|0.7,2.4", "|0.72,2.45",
    "|0.7,2.45", "|0.72,2.5", "|0.7,2.4", "|0.68,2.45", "|0.7,2.4",
    "|0.72,2.6", "|0.7,2.45", "|0.68,2.4", "|0.7,2.45", "|0.7,2.4",
    "|0.72,2.45", "|0.7,2.4", "|0.68,2.45", "|0.7,2.5", "|0.7,2.4",
    "|0.72,2.45", "|0.7,2.4", "|0.68,2.45", "|0.7,2.4", "|0.72,2.45",
]

row8 = [
    "|0.7,2.45", "|0.72,2.45", "|0.7,2.4", "|0.68,2.4", "|0.7,2.45",
    "|0.72,2.45", "|0.7,2.5", "|0.68,2.45", "|0.7,2.4", "|0.7,2.45",
    "|0.72,2.4", "|0.7,2.45", "|0.68,2.4", "|0.7,2.45", "|0.7,2.4",
    "|0.72,2.5", "|0.7,2.45", "|0.68,2.4", "|0.7,2.45", "|0.8,2.95",
    "|0.7,2.45", "|0.8,2.65", "|0.7,2.4", "|0.68,2.45", "|0.7,2.5",
    "|0.72,2.45", "|0.7,2.4", "|0.68,2.45", "|0.7,2.4", "|0.72,2.45",
    "|0.7,2.45", "|0.72,2.4", "|0.7,2.45", "|0.68,2.4", "|0.7,2.45",
    "|0.7,2.4", "|0.72,2.5",
]

rows = [row1, row2, row3, row4, row5, row6, row7, row8]
row_start = [1, 81, 161, 241, 321, 401, 481, 561]

FIG_W, FIG_H = 3758, 2375
X_LEFT = 137.0        # px, left edge of every row
SLOT = 44.94          # px per position
BASE0 = 249.5         # px, baseline of row 1
ROW_STEP = 292.3      # px between baselines
YMAX = 4.32
PX_BIT = 52.3

fig = plt.figure(figsize=(FIG_W / 100, FIG_H / 100), dpi=100)

bold_fp = FontProperties(family=["Liberation Sans", "DejaVu Sans"], weight="bold")
light_fp = FontProperties(family=["Liberation Sans", "DejaVu Sans"], weight="normal")
ibold_fp = FontProperties(family=["DejaVu Sans Mono", "DejaVu Sans"], weight="bold")
ilight_fp = FontProperties(family=["DejaVu Sans Mono", "DejaVu Sans"], weight="normal")
text_family = ["Liberation Sans", "DejaVu Sans"]

glyphs = {}
def glyph(ch, heavy):
    key = (ch, heavy)
    if key not in glyphs:
        if ch == "I":
            fp = ibold_fp if heavy else ilight_fp
        else:
            fp = bold_fp if heavy else light_fp
        p = TextPath((0, 0), ch, size=1, prop=fp)
        glyphs[key] = (p, p.get_extents())
    return glyphs[key]

def draw_letter(ax, ch, x0, y0, w, h):
    p, bb = glyph(ch, h >= 0.25)
    t = (Affine2D().translate(-bb.x0, -bb.y0)
         .scale(w / bb.width, h / bb.height).translate(x0, y0))
    col = "#ff0000" if ch == "C" else "black"
    ax.add_patch(PathPatch(t.transform_path(p), fc=col, ec="none", lw=0,
                           clip_on=False, zorder=2))

def parse(item):
    parts = item.split("|")
    letters = [(c, float(h)) for c, h in re.findall(r"([A-Z])([\d.]+)", parts[0])]
    lo, hi = [float(v) for v in parts[1].split(",")]
    w = float(parts[2]) if len(parts) > 2 else 1.0
    return letters, lo, hi, w

for r, (data, start) in enumerate(zip(rows, row_start)):
    n = len(data)
    base = BASE0 + r * ROW_STEP
    ax = fig.add_axes([X_LEFT / FIG_W, 1 - base / FIG_H,
                       n * SLOT / FIG_W, YMAX * PX_BIT / FIG_H])
    ax.set_facecolor("none")
    ax.set_xlim(start - 0.5, start + n - 0.5)
    ax.set_ylim(0, YMAX)

    for i, item in enumerate(data):
        pos = start + i
        letters, lo, hi, w = parse(item)
        sw = 0.97 * w
        if not letters:
            ax.vlines(pos, 0, (lo + hi) / 2, color="#222222", lw=0.8, zorder=2)
        elif w < 0.12:
            tot = sum(h for _, h in letters)
            ax.vlines(pos, 0, tot, color="black", lw=max(1.0, w * SLOT * 0.72),
                      zorder=2)
        else:
            y = 0.0
            for ch, h in sorted(letters, key=lambda t: t[1]):
                draw_letter(ax, ch, pos - sw / 2, y, sw, h)
                y += h
        # error bar
        ax.vlines(pos, lo, hi, color="#c4c4c4", lw=1.3, zorder=3, clip_on=False)
        ax.hlines([lo, hi], pos - 0.11, pos + 0.11, color="#b4b4b4", lw=2.2,
                  zorder=3, clip_on=False)

    for s in ("top", "right"):
        ax.spines[s].set_visible(False)
    ax.spines["bottom"].set_linewidth(2.6)
    ax.spines["left"].set_linewidth(1.6)

    ax.set_yticks([0, 1, 2, 3, 4])
    ax.set_yticklabels(["0.0", "1.0", "2.0", "3.0", "4.0"])
    ax.set_yticks([v / 5 for v in range(22)], minor=True)
    majors = [p for p in range(start, start + n) if p % 5 == 0]
    ax.set_xticks(majors)
    ax.set_xticklabels([str(p) for p in majors])
    ax.set_xticks(range(start, start + n), minor=True)
    ax.tick_params(axis="y", which="major", direction="out", length=10, width=2,
                   labelsize=21, pad=3)
    ax.tick_params(axis="y", which="minor", direction="out", length=6, width=2)
    ax.tick_params(axis="x", which="major", direction="out", length=7, width=1.5,
                   labelsize=21, pad=7)
    ax.tick_params(axis="x", which="minor", direction="out", length=4, width=1.3)
    for lab in ax.get_xticklabels() + ax.get_yticklabels():
        lab.set_family(text_family)

    fig.text(36 / FIG_W, 1 - (base - 2.1 * PX_BIT) / FIG_H, "bits", rotation=90,
             ha="center", va="center", fontsize=27, family=text_family)

fig.text(3732 / FIG_W, 1 - 2367 / FIG_H, "WebLogo 3.7.12", ha="right",
         va="baseline", fontsize=18, family=text_family)

fig.savefig("out.png", dpi=100, facecolor="white")
